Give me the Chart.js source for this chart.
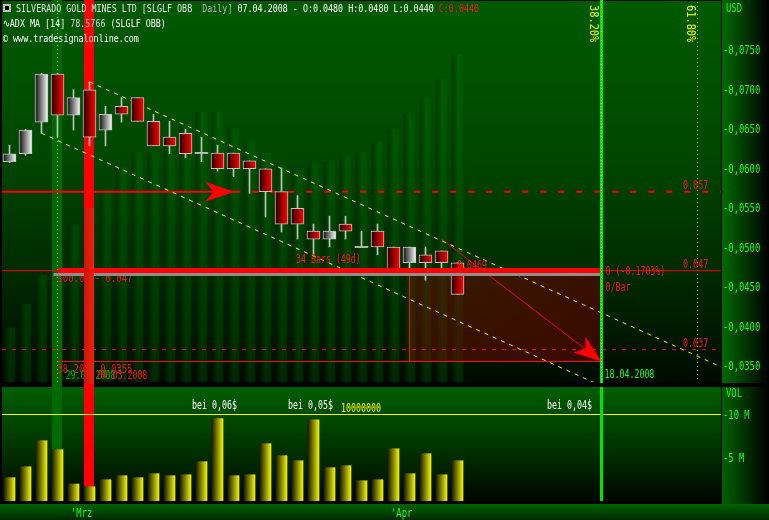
<!DOCTYPE html>
<html>
<head>
<meta charset="utf-8">
<script src="https://cdn.jsdelivr.net/npm/chart.js@4.4.1/dist/chart.umd.min.js"></script>
<style>
  body { margin:0; background:#000; width:769px; height:520px; overflow:hidden; }
  canvas { position:absolute; left:0; }
  #price { top:0; }
  #vol { top:384px; }
</style>
</head>
<body>
<canvas id="price" width="769" height="384"></canvas>
<canvas id="vol" width="769" height="136"></canvas>
<script>
// SLGLF daily, 26.02.2008 - 07.04.2008
const dates  = ['26.02','27.02','28.02','29.02','03.03','04.03','05.03','06.03','07.03','10.03','11.03','12.03','13.03','14.03',
                '17.03','18.03','19.03','20.03','24.03','25.03','26.03','27.03','28.03','31.03','01.04','02.04','03.04','04.04','07.04'];
const open   = [0.0608,0.0618,0.0658,0.0719,0.0667,0.0699,0.0648,0.0678,0.0689,0.0659,0.0639,0.0644,0.0619,0.0619,
                0.0619,0.0609,0.0599,0.0570,0.0549,0.0520,0.0510,0.0529,0.0500,0.0520,0.0500,0.0480,0.0490,0.0495,0.0480];
const high   = [0.0629,0.0649,0.0720,0.0720,0.0699,0.0709,0.0678,0.0689,0.0689,0.0668,0.0659,0.0649,0.0639,0.0629,
                0.0619,0.0609,0.0599,0.0600,0.0565,0.0529,0.0539,0.0539,0.0520,0.0529,0.0500,0.0500,0.0500,0.0495,0.0480];
const low    = [0.0607,0.0616,0.0644,0.0639,0.0648,0.0628,0.0628,0.0658,0.0659,0.0628,0.0618,0.0613,0.0608,0.0596,
                0.0589,0.0568,0.0538,0.0519,0.0510,0.0490,0.0500,0.0510,0.0500,0.0490,0.0469,0.0471,0.0458,0.0472,0.0440];
const close  = [0.0618,0.0648,0.0719,0.0667,0.0689,0.0639,0.0668,0.0668,0.0659,0.0628,0.0628,0.0618,0.0619,0.0599,
                0.0599,0.0599,0.0570,0.0529,0.0529,0.0510,0.0520,0.0520,0.0500,0.0500,0.0471,0.0500,0.0480,0.0480,0.0440];
const volume = [2.68,3.94,6.93,5.90,1.95,1.64,2.45,2.91,2.68,3.14,2.91,3.02,4.52,9.46,
                2.91,3.02,6.59,5.21,4.63,9.34,3.83,4.06,2.33,2.45,6.01,3.14,5.44,3.02,4.63];   // millions
const adx    = [13.0,18.7,25.7,31.0,37.5,41.8,46.1,51.7,55.3,55.3,58.1,62.0,64.9,65.1,
                60.8,58.0,55.0,52.0,50.7,52.4,52.9,54.1,55.3,57.7,60.8,64.2,67.8,72.8,78.58];

const priceTicks  = [0.035,0.040,0.045,0.050,0.055,0.060,0.065,0.070,0.075];
const volTicks    = [5, 10];
const xTickIdx    = [4, 24];
const xTickLabels = ["'Mrz", "'Apr"];

// drawing tools on the chart
const markGreen = 3, markRed = 5, markTarget = 37, markFib = 43;
const trendUpper = [[5, 0.0709], [44.5, 0.0348]];
const trendLower = [[2, 0.0644], [44.5, 0.02556]];
const projLine   = [[27, 0.0510], [37, 0.0355]];
const arrowLevel = 0.057, arrowTip = 14.05;
const bandLevel  = 0.047, fibLow = 0.0355, boxFrom = 25;
const dashLevel  = 0.037;
const hLevels = [0.057, 0.047, 0.037];
const hLabels = ['0.057', '0.047', '0.037'];
const volLine = 10;

const xMin = -0.46875, xMax = 44.46875;
const priceMin = 0.032911, priceMax = 0.08101;

const RED = '#ff1414';

function txt(ctx, s, x, y, color, size, sx) {
  ctx.save();
  ctx.font = size + 'px "DejaVu Sans Mono", monospace';
  ctx.fillStyle = color;
  ctx.textAlign = 'left';
  ctx.textBaseline = 'alphabetic';
  ctx.translate(x, y);
  ctx.scale(sx, 1);
  ctx.fillText(s, 0, 0);
  const w = ctx.measureText(s).width * sx;
  ctx.restore();
  return w;
}

function arrowHead(ctx, tx, ty, dx, dy, L, W) {
  const n = Math.hypot(dx, dy); dx /= n; dy /= n;
  const nx = -dy, ny = dx;
  ctx.beginPath();
  ctx.moveTo(tx, ty);
  ctx.lineTo(tx - L*dx + W*nx, ty - L*dy + W*ny);
  ctx.lineTo(tx - 0.72*L*dx, ty - 0.72*L*dy);
  ctx.lineTo(tx - L*dx - W*nx, ty - L*dy - W*ny);
  ctx.closePath();
  ctx.fill();
}

function hGrad(c, w, stops, fallback) {
  if (c.type !== 'data') return fallback;
  const x = c.chart.scales.x.getPixelForValue(c.raw.x);
  if (!isFinite(x)) return fallback;
  const g = c.chart.ctx.createLinearGradient(x - w/2, 0, x + w/2, 0);
  stops.forEach(s => g.addColorStop(s[0], s[1]));
  return g;
}

function candleFill(c) {
  if (c.type !== 'data') return '#888';
  const i = c.dataIndex;
  if (open[i] === close[i]) return '#c4c4c4';
  if (close[i] > open[i]) return hGrad(c, 12, [[0,'#141414'],[1,'#f2f2f2']], '#aaa');
  return hGrad(c, 12, [[0,'#280000'],[1,'#ff0000']], '#c00');
}

const seg = (pts, color, width, dash) => ({
  type: 'line', order: 5,
  data: pts.map(p => ({x: p[0], y: p[1]})),
  borderColor: color, borderWidth: width, borderDash: dash || [],
  pointRadius: 0, fill: false, tension: 0
});

const priceDeco = {
  id: 'priceDeco',
  beforeDraw(ch) {
    const c = ch.ctx;
    c.save();
    c.fillStyle = '#000'; c.fillRect(0, 0, 769, 384);
    let g = c.createLinearGradient(0, 1, 0, 382);
    g.addColorStop(0, '#005a00'); g.addColorStop(0.4, '#004700');
    g.addColorStop(0.7, '#002c00'); g.addColorStop(1, '#000a00');
    c.fillStyle = g; c.fillRect(2, 1, 719, 381);
    g = c.createLinearGradient(722, 0, 769, 0);
    g.addColorStop(0, '#006a00'); g.addColorStop(1, '#000');
    c.fillStyle = g; c.fillRect(722, 0, 47, 383);
    c.restore();
  },
  afterDatasetDraw(ch, args) {
    if (args.index !== 0) return;
    const c = ch.ctx, X = ch.scales.x, Y = ch.scales.y, A = ch.scales.yAdx;
    c.save();
    // projection box
    const bx1 = X.getPixelForValue(boxFrom), bx2 = X.getPixelForValue(markTarget);
    const by1 = Y.getPixelForValue(bandLevel), by2 = Y.getPixelForValue(fibLow);
    const g = c.createLinearGradient(bx1, 0, bx2, 0);
    g.addColorStop(0, 'rgba(110,12,0,0.45)'); g.addColorStop(1, 'rgba(70,8,0,0.8)');
    c.fillStyle = g; c.fillRect(bx1, by1, bx2 - bx1, by2 - by1);
    const gx = X.getPixelForValue(markGreen), rx = X.getPixelForValue(markRed);
    // highlighted day 29.02
    c.fillStyle = '#006900';
    c.fillRect(Math.floor(gx) - 5, 0, 10, 384);
    // fib labels
    txt(c, '100.00 - 0.047', gx, by1 + 11, RED, 12, 0.74);
    txt(c, '38.20 - 0.0355', gx, by2 + 11, RED, 12, 0.74);
    txt(c, '29.02.2008', gx + 8, by2 + 17, '#00b400', 12, 0.69);
    txt(c, '04.03.2008', rx + 8, by2 + 17, RED, 12, 0.69);
    // highlighted day 04.03
    const ry = A.getPixelForValue(adx[markRed]);
    c.fillStyle = '#ff0000';
    c.fillRect(Math.floor(rx) - 5, 0, 10, ry);
    const rg = c.createLinearGradient(Math.floor(rx) - 5, 0, Math.floor(rx) + 5, 0);
    rg.addColorStop(0, '#c81808'); rg.addColorStop(1, '#f02010');
    c.fillStyle = rg;
    c.fillRect(Math.floor(rx) - 5, ry, 10, 384 - ry);
    // dotted verticals
    c.lineWidth = 1;
    c.setLineDash([1, 3]);
    c.strokeStyle = '#d8ffd8';
    c.beginPath(); c.moveTo(Math.floor(gx) + 0.5, 1); c.lineTo(Math.floor(gx) + 0.5, 382); c.stroke();
    const fx = Math.floor(X.getPixelForValue(markFib)) + 0.5;
    c.strokeStyle = '#ffff50';
    c.beginPath(); c.moveTo(fx, 2); c.lineTo(fx, 382); c.stroke();
    c.restore();
  },
  afterDatasetsDraw(ch) {
    const c = ch.ctx, X = ch.scales.x, Y = ch.scales.y;
    c.save();
    // thick band at 0.047
    const yb = Math.round(Y.getPixelForValue(bandLevel));
    const gx = X.getPixelForValue(markGreen), tx = X.getPixelForValue(markTarget);
    const rl = Math.floor(X.getPixelForValue(markRed)) - 5, rr = rl + 10;
    [[gx - 4, rl], [rr, tx]].forEach(([a, b]) => {
      c.fillStyle = '#8e8e8e'; c.fillRect(a, yb + 2, b - a, 3);
      c.fillStyle = '#ff0000'; c.fillRect(Math.max(a, gx), yb - 3, b - Math.max(a, gx), 5);
    });
    // arrow heads
    c.fillStyle = '#ff0000';
    arrowHead(c, X.getPixelForValue(arrowTip), Y.getPixelForValue(arrowLevel), 1, 0, 29, 10);
    const p0x = X.getPixelForValue(projLine[0][0]), p0y = Y.getPixelForValue(projLine[0][1]);
    const p1x = X.getPixelForValue(projLine[1][0]), p1y = Y.getPixelForValue(projLine[1][1]);
    arrowHead(c, p1x, p1y, p1x - p0x, p1y - p0y, 28, 10);
    // target day line
    c.fillStyle = '#00e600';
    c.fillRect(Math.floor(tx) - 1, 0, 3, 383);
    c.fillStyle = '#a0ffa0';
    for (let y = 1; y < 383; y += 3) c.fillRect(Math.floor(tx), y, 1, 1);
    // labels
    hLevels.forEach((v, k) => txt(c, hLabels[k], 683, Y.getPixelForValue(v) - 3, RED, 12, 0.7));
    txt(c, '0 (-0.1703%)', tx + 4, yb + 4, RED, 12, 0.69);
    txt(c, '0/Bar', tx + 4, yb + 20, RED, 12, 0.69);
    txt(c, '18.04.2008', tx + 3, 378, '#22ff22', 12, 0.69);
    txt(c, '34 Bars (49d)', 296, 263, RED, 12, 0.69);
    txt(c, '0.0469', 457, 269, RED, 12, 0.69);
    [['38.20%', tx - 12], ['61.80%', X.getPixelForValue(markFib) - 11]].forEach(([s, x]) => {
      c.save();
      c.translate(x, 5);
      c.rotate(Math.PI / 2);
      txt(c, s, 0, 0, '#ffff00', 12, 0.86);
      c.restore();
    });
    c.restore();
  },
  afterDraw(ch) {
    const c = ch.ctx, Y = ch.scales.y;
    c.save();
    // header
    c.fillStyle = '#c0c0c0'; c.fillRect(3, 4, 8, 8);
    c.fillStyle = '#000'; c.fillRect(5, 6, 4, 4);
    let x = 16;
    [['SILVERADO GOLD MINES LTD [SLGLF OBB  ', '#e4e4e4'], ['Daily] ', '#b4b4b4'],
     ['07.04.2008 - O:0.0480 H:0.0480 L:0.0440 ', '#ffffff'], ['C:0.0440', RED]]
      .forEach(([s, col]) => { x += txt(c, s, x, 12, col, 11, 0.76); });
    x = 3;
    [['\u223F', '#ffffff'], ['ADX MA [14] ', '#ffffff'], ['78.5766', '#d0d0d0'], [' (SLGLF OBB)', '#ffffff']]
      .forEach(([s, col]) => { x += txt(c, s, x, 27, col, 11, 0.76); });
    txt(c, '\u00A9 www.tradesignalonline.com', 3, 42, '#ffffff', 11, 0.76);
    // price axis
    Y.ticks.forEach(t => {
      txt(c, '-' + t.value.toFixed(4).replace('.', ','), 723, Y.getPixelForValue(t.value) + 4.6, '#1cff1c', 13, 0.68);
    });
    txt(c, 'USD', 726, 12, '#1cff1c', 13, 0.68);
    c.restore();
  }
};

new Chart(document.getElementById('price'), {
  type: 'bar',
  data: {
    datasets: [
      { label: 'ADX', yAxisID: 'yAdx', order: 10, grouped: false, barThickness: 11,
        data: adx.map((v, i) => ({x: i, y: v})),
        backgroundColor: c => hGrad(c, 11, [[0,'rgba(0,20,0,0.4)'],[0.6,'rgba(0,120,0,0.3)'],[1,'rgba(0,110,0,0.25)']], 'rgba(0,110,0,0.3)') },
      seg(trendUpper, '#ffff00', 1, [4, 5]),
      seg(trendLower, '#ffff00', 1, [4, 5]),
      seg([[xMin, arrowLevel], [arrowTip, arrowLevel]], '#ff0000', 2),
      seg([[arrowTip, arrowLevel], [xMax, arrowLevel]], '#ff0000', 2, [6, 12]),
      seg([[xMin, bandLevel], [xMax, bandLevel]], '#ff0000', 1),
      seg([[xMin, dashLevel], [xMax, dashLevel]], '#ff1010', 1, [4, 6]),
      seg([[markGreen, fibLow], [markTarget, fibLow]], '#ff1010', 1),
      seg([[boxFrom, bandLevel], [boxFrom, fibLow]], '#ff1010', 1),
      seg(projLine, '#ff0000', 1),
      { label: 'wick', order: 3, grouped: false, barThickness: 1,
        data: low.map((v, i) => ({x: i, y: [v, high[i]]})), backgroundColor: '#c0c0c0' },
      { label: 'body', order: 2, grouped: false, barThickness: 13, borderSkipped: false,
        data: open.map((o, i) => ({x: i, y: o === close[i] ? [o - 0.00007, o + 0.00007] : [Math.min(o, close[i]), Math.max(o, close[i])]})),
        backgroundColor: candleFill,
        borderColor: '#c4c4c4',
        borderWidth: c => (c.type === 'data' && open[c.dataIndex] === close[c.dataIndex]) ? 0 : 1 }
    ]
  },
  options: {
    responsive: false, animation: false, devicePixelRatio: 1, events: [],
    layout: { padding: { left: 2, top: 2, bottom: 2, right: 0 } },
    plugins: { legend: { display: false }, tooltip: { enabled: false } },
    scales: {
      x: { type: 'linear', min: xMin, max: xMax, offset: false, display: false },
      y: { type: 'linear', position: 'right', min: priceMin, max: priceMax,
           ticks: { display: false }, grid: { display: false }, border: { display: false },
           afterFit: s => { s.width = 48; },
           afterBuildTicks: s => { s.ticks = priceTicks.map(v => ({value: v})); } },
      yAdx: { type: 'linear', display: false, min: 0, max: 91.3 }
    }
  },
  plugins: [priceDeco]
});

const volDeco = {
  id: 'volDeco',
  beforeDraw(ch) {
    const c = ch.ctx;
    c.save();
    c.fillStyle = '#000'; c.fillRect(0, 0, 769, 136);
    let g = c.createLinearGradient(0, 3, 0, 117);
    g.addColorStop(0, '#005e00'); g.addColorStop(0.5, '#003600'); g.addColorStop(1, '#000600');
    c.fillStyle = g; c.fillRect(2, 3, 719, 114);
    g = c.createLinearGradient(722, 0, 769, 0);
    g.addColorStop(0, '#006000'); g.addColorStop(1, '#000');
    c.fillStyle = g; c.fillRect(722, 3, 47, 117);
    g = c.createLinearGradient(0, 120, 0, 136);
    g.addColorStop(0, '#006400'); g.addColorStop(1, '#002800');
    c.fillStyle = g; c.fillRect(0, 120, 769, 16);
    c.restore();
  },
  beforeDatasetsDraw(ch) {
    const c = ch.ctx, X = ch.scales.x;
    c.save();
    c.fillStyle = '#006900';
    c.fillRect(Math.floor(X.getPixelForValue(markGreen)) - 5, 0, 10, 117);
    c.fillStyle = '#ff0000';
    c.fillRect(Math.floor(X.getPixelForValue(markRed)) - 5, 0, 10, 117);
    c.restore();
  },
  afterDatasetsDraw(ch) {
    const c = ch.ctx, X = ch.scales.x, Y = ch.scales.y;
    c.save();
    const ly = Math.round(Y.getPixelForValue(volLine)) + 0.5;
    c.strokeStyle = '#ffff00'; c.lineWidth = 1;
    c.beginPath(); c.moveTo(2, ly); c.lineTo(721, ly); c.stroke();
    const tx = X.getPixelForValue(markTarget);
    c.fillStyle = '#00e600'; c.fillRect(Math.floor(tx) - 1, 3, 3, 114);
    txt(c, 'bei 0,06$', 192, 25, '#ffffff', 12, 0.69);
    txt(c, 'bei 0,05$', 288, 25, '#ffffff', 12, 0.69);
    txt(c, 'bei 0,04$', 547, 25, '#ffffff', 12, 0.69);
    txt(c, '10000000', 341, 28, '#ffff00', 12, 0.69);
    c.restore();
  },
  afterDraw(ch) {
    const c = ch.ctx, X = ch.scales.x, Y = ch.scales.y;
    c.save();
    txt(c, 'VOL', 726, 13, '#1cff1c', 13, 0.68);
    Y.ticks.forEach(t => txt(c, '-' + t.value + ' M', 723, Y.getPixelForValue(t.value) + 4.6, '#1cff1c', 13, 0.68));
    X.ticks.forEach((t, k) => txt(c, xTickLabels[k], X.getPixelForValue(t.value) - 2.5, 133, '#1cff1c', 13, 0.68));
    c.restore();
  }
};

new Chart(document.getElementById('vol'), {
  type: 'bar',
  data: {
    datasets: [{
      label: 'Volume', grouped: false, barThickness: 11,
      data: volume.map((v, i) => ({x: i, y: v})),
      backgroundColor: c => hGrad(c, 11, [[0,'#1c1c00'],[1,'#f4f400']], '#cc0')
    }]
  },
  options: {
    responsive: false, animation: false, devicePixelRatio: 1, events: [],
    layout: { padding: { left: 2, top: 3, bottom: 0, right: 0 } },
    plugins: { legend: { display: false }, tooltip: { enabled: false } },
    scales: {
      x: { type: 'linear', min: xMin, max: xMax, offset: false, position: 'bottom',
           ticks: { display: false }, grid: { display: false }, border: { display: false },
           afterFit: s => { s.height = 19; },
           afterBuildTicks: s => { s.ticks = xTickIdx.map(v => ({value: v})); } },
      y: { type: 'linear', position: 'right', min: 0, max: 13.1,
           ticks: { display: false }, grid: { display: false }, border: { display: false },
           afterFit: s => { s.width = 48; },
           afterBuildTicks: s => { s.ticks = volTicks.map(v => ({value: v})); } }
    }
  },
  plugins: [volDeco]
});
</script>
</body>
</html>
